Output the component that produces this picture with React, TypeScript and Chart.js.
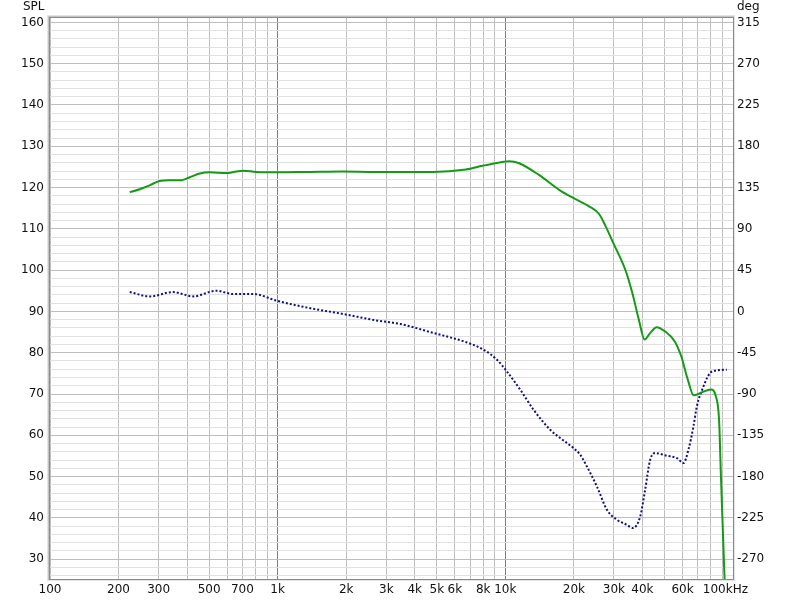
import React, { useEffect, useRef } from "react";
import { Chart, registerables } from "chart.js";

Chart.register(...registerables);

// SPL (dB) curve
const splFreqs = [224, 248, 275, 303, 336, 378, 411, 455, 503, 595, 658, 705, 805, 982, 1380, 1920, 2690, 3800, 4800, 6720, 7950, 9450, 10400, 11500, 14100, 17300, 19700, 23400, 25800, 27600, 29600, 33800, 36100, 38600, 40900, 43300, 46200, 50200, 55400, 59200, 63300, 67200, 72300, 79900, 84000, 86900, 88400, 90000, 91600, 93500];
const splValues = [118.9, 119.6, 120.6, 121.6, 121.8, 121.8, 122.5, 123.4, 123.7, 123.5, 123.9, 124.1, 123.8, 123.7, 123.8, 123.9, 123.8, 123.8, 123.8, 124.4, 125.3, 126.1, 126.4, 125.9, 123.0, 119.4, 117.6, 115.4, 113.6, 110.6, 106.9, 99.8, 94.5, 88.0, 83.2, 84.8, 86.2, 85.2, 82.8, 79.2, 73.5, 69.7, 70.3, 71.1, 69.5, 63.5, 51.0, 38.9, 26.8, 15];

// Phase (deg) curve
const phaseFreqs = [224, 275, 347, 426, 538, 637, 781, 990, 1380, 1940, 2710, 3456, 4839, 6784, 8025, 9186, 10160, 11630, 13300, 15740, 17420, 18640, 19930, 21330, 22820, 25250, 27930, 30900, 34140, 36310, 39110, 41130, 43270, 45500, 51220, 56660, 60580, 63710, 67020, 69350, 74150, 79350, 84910, 93930];
const phaseValues = [21.1, 16.4, 21.1, 16.4, 22.6, 19.0, 19.0, 11.7, 3.7, -2.8, -9.8, -13.7, -23.5, -33.8, -41.7, -52.6, -65.4, -85.3, -107.1, -128.9, -138.0, -143.4, -148.9, -156.2, -169.0, -190.8, -216.1, -227.0, -232.5, -236.1, -223.5, -194.3, -161.6, -154.3, -157.3, -159.8, -165.2, -150.7, -125.4, -103.6, -81.8, -67.1, -64.3, -63.5];

// Axis ticks
const xGridValues = [100, 200, 300, 400, 500, 600, 700, 800, 900, 1000, 2000, 3000, 4000, 5000, 6000, 7000, 8000, 9000, 10000, 20000, 30000, 40000, 50000, 60000, 70000, 80000, 90000, 100000];
const xLabelValues = [100, 200, 300, 500, 700, 1000, 2000, 3000, 4000, 5000, 6000, 8000, 10000, 20000, 30000, 40000, 60000, 100000];
const xLabelTexts = ["100", "200", "300", "500", "700", "1k", "2k", "3k", "4k", "5k", "6k", "8k", "10k", "20k", "30k", "40k", "60k", "100kHz    "];
const splLabelValues = [30, 40, 50, 60, 70, 80, 90, 100, 110, 120, 130, 140, 150, 160];
const degLabelValues = [-270, -225, -180, -135, -90, -45, 0, 45, 90, 135, 180, 225, 270, 315];

const SPL_MIN = 25.2;
const SPL_MAX = 161.07;
const toDeg = (db: number) => (db - 90) * 4.5;

const FONT = "DejaVu Sans";

export default function App() {
  const ref = useRef<HTMLCanvasElement | null>(null);

  useEffect(() => {
    document.body.style.margin = "0";
    const canvas = ref.current;
    if (!canvas) return;

    const splGrid: number[] = [];
    for (let v = 26; v <= 160; v += 2) splGrid.push(v);

    const framePlugin = {
      id: "frame",
      afterDraw(chart: any) {
        const { ctx, chartArea: a } = chart;
        ctx.save();
        ctx.lineWidth = 1;
        ctx.strokeStyle = "#e4e4e4";
        ctx.strokeRect(a.left - 2.5, a.top - 2.5, a.right - a.left + 4, a.bottom - a.top + 4);
        ctx.strokeStyle = "#c4c4c4";
        ctx.strokeRect(a.left - 1.5, a.top - 1.5, a.right - a.left + 2, a.bottom - a.top + 2);
        ctx.strokeStyle = "#8a8a8a";
        ctx.strokeRect(a.left - 0.5, a.top - 0.5, a.right - a.left + 1, a.bottom - a.top + 1);
        ctx.fillStyle = "#111";
        ctx.font = `12px "${FONT}"`;
        ctx.textBaseline = "middle";
        ctx.textAlign = "left";
        ctx.fillText("SPL", 23, 7);
        ctx.fillText("deg", 737, 7);
        ctx.restore();
      },
    };

    const chart = new Chart(canvas, {
      type: "line",
      data: {
        datasets: [
          {
            label: "SPL",
            data: splFreqs.map((f, i) => ({ x: f, y: splValues[i] })),
            yAxisID: "y",
            borderColor: "#159a15",
            borderWidth: 2,
            pointRadius: 0,
            cubicInterpolationMode: "monotone",
            fill: false,
          },
          {
            label: "Phase",
            data: phaseFreqs.map((f, i) => ({ x: f, y: phaseValues[i] })),
            yAxisID: "y2",
            borderColor: "#101080",
            borderWidth: 2,
            borderDash: [2, 2],
            pointRadius: 0,
            cubicInterpolationMode: "monotone",
            fill: false,
          },
        ],
      },
      options: {
        responsive: false,
        animation: false,
        devicePixelRatio: 1,
        layout: { padding: { top: 18, left: 0, right: 0, bottom: 0 } },
        plugins: {
          legend: { display: false },
          tooltip: { enabled: false },
        },
        scales: {
          x: {
            type: "logarithmic",
            min: 100,
            max: 100000,
            afterBuildTicks: (scale: any) => {
              scale.ticks = xGridValues.map((v) => ({ value: v }));
            },
            afterFit: (scale: any) => {
              scale.height = 24;
            },
            grid: {
              drawTicks: false,
              color: (c: any) =>
                c.tick && (c.tick.value === 1000 || c.tick.value === 10000) ? "#7c7c7c" : "#bebebe",
              lineWidth: 1,
            },
            border: { display: false },
            ticks: {
              autoSkip: false,
              maxRotation: 0,
              minRotation: 0,
              padding: 4,
              color: "#111",
              font: { family: FONT, size: 12 },
              callback: (v: any) => {
                const idx = xLabelValues.indexOf(Number(v));
                return idx >= 0 ? xLabelTexts[idx] : "";
              },
            },
          },
          y: {
            type: "linear",
            position: "left",
            min: SPL_MIN,
            max: SPL_MAX,
            afterBuildTicks: (scale: any) => {
              scale.ticks = splGrid.map((v) => ({ value: v }));
            },
            afterFit: (scale: any) => {
              scale.width = 50;
            },
            grid: {
              drawTicks: false,
              color: (c: any) => (c.tick && c.tick.value % 10 === 0 ? "#bebebe" : "#e0e0e0"),
              lineWidth: 1,
            },
            border: { display: false },
            ticks: {
              padding: 6,
              color: "#111",
              font: { family: FONT, size: 12 },
              autoSkip: false,
              callback: (v: any) => (splLabelValues.includes(Number(v)) ? String(v) : ""),
            },
          },
          y2: {
            type: "linear",
            position: "right",
            min: toDeg(SPL_MIN),
            max: toDeg(SPL_MAX),
            afterBuildTicks: (scale: any) => {
              scale.ticks = degLabelValues.map((v) => ({ value: v }));
            },
            afterFit: (scale: any) => {
              scale.width = 67;
            },
            grid: { display: false, drawTicks: false },
            border: { display: false },
            ticks: {
              padding: 4,
              color: "#111",
              font: { family: FONT, size: 12 },
              autoSkip: false,
              callback: (v: any) => String(v),
            },
          },
        },
      },
      plugins: [framePlugin],
    } as any);

    return () => chart.destroy();
  }, []);

  return (
    <div style={{ width: 800, height: 603, background: "#fff" }}>
      <canvas ref={ref} width={800} height={603} style={{ display: "block" }} />
    </div>
  );
}
